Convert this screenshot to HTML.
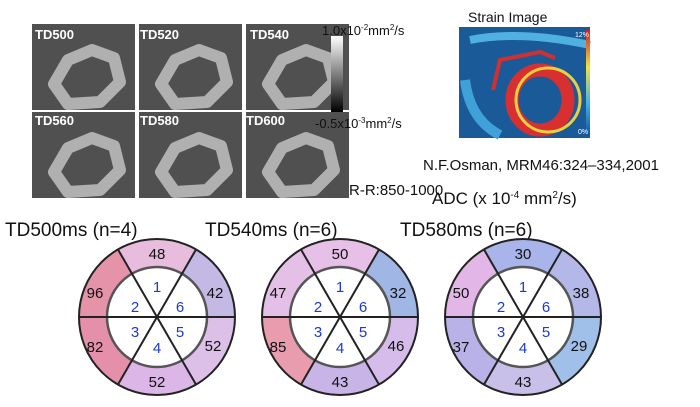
<!DOCTYPE html>
<html><head><meta charset="utf-8"><style>
body{margin:0;background:#fff;width:700px;height:402px;overflow:hidden}
svg text{font-family:"Liberation Sans",sans-serif}
</style></head><body>
<svg width="700" height="402" viewBox="0 0 700 402" xmlns="http://www.w3.org/2000/svg">
<defs>
<linearGradient id="gb" x1="0" y1="0" x2="0" y2="1"><stop offset="0" stop-color="#fff"/><stop offset="1" stop-color="#000"/></linearGradient>
<linearGradient id="sc" x1="0" y1="0" x2="0" y2="1"><stop offset="0" stop-color="#d02020"/><stop offset=".35" stop-color="#f0e040"/><stop offset=".7" stop-color="#40b0e0"/><stop offset="1" stop-color="#1050a0"/></linearGradient>
<g id="heart">
<rect width="103" height="86" fill="#505050"/>
<path d="M22 60 L36 36 L60 26 L82 34 L88 58 L68 78 L36 80 Z" fill="none" stroke="#b0b0b0" stroke-width="12" stroke-linejoin="round"/>
</g>
</defs>
<use href="#heart" x="32" y="24"/><use href="#heart" x="139" y="24"/><use href="#heart" x="246" y="24"/>
<use href="#heart" x="32" y="112"/><use href="#heart" x="139" y="112"/><use href="#heart" x="246" y="112"/>
<g fill="#fff" font-size="13" font-weight="bold">
<text x="35" y="39">TD500</text><text x="140" y="39">TD520</text><text x="250" y="39">TD540</text>
<text x="35" y="125">TD560</text><text x="140" y="125">TD580</text><text x="246" y="125">TD600</text>
</g>
<rect x="331" y="36" width="12" height="76" fill="url(#gb)"/>
<text x="322" y="35" font-size="13" fill="#111">1.0x10<tspan font-size="8" dy="-5">-2</tspan><tspan dy="5">mm</tspan><tspan font-size="8" dy="-5">2</tspan><tspan dy="5">/s</tspan></text>
<text x="315" y="128" font-size="13" fill="#111">-0.5x10<tspan font-size="8" dy="-5">-3</tspan><tspan dy="5">mm</tspan><tspan font-size="8" dy="-5">2</tspan><tspan dy="5">/s</tspan></text>
<text x="349" y="195" font-size="15" fill="#111">R-R:850-1000</text>
<text x="468" y="22" font-size="14" fill="#111">Strain Image</text>
<rect x="459" y="27" width="131" height="111" fill="#1a5a98"/>
<path d="M470 40 Q520 30 590 45" stroke="#50b0e0" stroke-width="8" fill="none"/>
<path d="M465 80 Q470 120 500 135" stroke="#40a0d8" stroke-width="10" fill="none"/>
<ellipse cx="540" cy="100" rx="28" ry="30" fill="none" stroke="#d83030" stroke-width="13"/>
<ellipse cx="548" cy="100" rx="32" ry="32" fill="none" stroke="#e8d040" stroke-width="3"/>
<path d="M493 90 L500 60 L540 52 L555 58" stroke="#d03030" stroke-width="4" fill="none"/>
<rect x="586" y="30" width="4" height="106" fill="url(#sc)"/>
<text x="575" y="37" font-size="7" fill="#fff">12%</text>
<text x="578" y="134" font-size="7" fill="#fff">0%</text>
<text x="423" y="170" font-size="15" fill="#111">N.F.Osman, MRM46:324–334,2001</text>
<text x="432" y="204" font-size="17" fill="#111">ADC (x 10<tspan font-size="10" dy="-6">-4</tspan><tspan dy="6"> mm</tspan><tspan font-size="10" dy="-6">2</tspan><tspan dy="6">/s)</tspan></text>
<g font-size="19" fill="#111">
<text x="5" y="236">TD500ms (n=4)</text><text x="205" y="236">TD540ms (n=6)</text><text x="400" y="236">TD580ms (n=6)</text>
</g>
<g transform="translate(157,317)">
<path d="M-39 -67.5 A78 78 0 0 1 39 -67.5 L25 -43.3 A50 50 0 0 0 -25 -43.3Z" fill="#e8bcdc"/>
<path d="M-78 0 A78 78 0 0 1 -39 -67.5 L-25 -43.3 A50 50 0 0 0 -50 0Z" fill="#e593a8"/>
<path d="M-39 67.5 A78 78 0 0 1 -78 0 L-50 0 A50 50 0 0 0 -25 43.3Z" fill="#e490ab"/>
<path d="M39 67.5 A78 78 0 0 1 -39 67.5 L-25 43.3 A50 50 0 0 0 25 43.3Z" fill="#dcb6e6"/>
<path d="M78 0 A78 78 0 0 1 39 67.5 L25 43.3 A50 50 0 0 0 50 0Z" fill="#dcc0e8"/>
<path d="M39 -67.5 A78 78 0 0 1 78 0 L50 0 A50 50 0 0 0 25 -43.3Z" fill="#c4b8e4"/>
</g>
<g transform="translate(340,317)">
<path d="M-39 -67.5 A78 78 0 0 1 39 -67.5 L25 -43.3 A50 50 0 0 0 -25 -43.3Z" fill="#e6c0e6"/>
<path d="M-78 0 A78 78 0 0 1 -39 -67.5 L-25 -43.3 A50 50 0 0 0 -50 0Z" fill="#e4c0e6"/>
<path d="M-39 67.5 A78 78 0 0 1 -78 0 L-50 0 A50 50 0 0 0 -25 43.3Z" fill="#e89cae"/>
<path d="M39 67.5 A78 78 0 0 1 -39 67.5 L-25 43.3 A50 50 0 0 0 25 43.3Z" fill="#c8b4e6"/>
<path d="M78 0 A78 78 0 0 1 39 67.5 L25 43.3 A50 50 0 0 0 50 0Z" fill="#d6bcea"/>
<path d="M39 -67.5 A78 78 0 0 1 78 0 L50 0 A50 50 0 0 0 25 -43.3Z" fill="#a0b6e4"/>
</g>
<g transform="translate(523,317)">
<path d="M-39 -67.5 A78 78 0 0 1 39 -67.5 L25 -43.3 A50 50 0 0 0 -25 -43.3Z" fill="#a8b4ea"/>
<path d="M-78 0 A78 78 0 0 1 -39 -67.5 L-25 -43.3 A50 50 0 0 0 -50 0Z" fill="#e2b6e6"/>
<path d="M-39 67.5 A78 78 0 0 1 -78 0 L-50 0 A50 50 0 0 0 -25 43.3Z" fill="#b8b2e8"/>
<path d="M39 67.5 A78 78 0 0 1 -39 67.5 L-25 43.3 A50 50 0 0 0 25 43.3Z" fill="#c8c0e8"/>
<path d="M78 0 A78 78 0 0 1 39 67.5 L25 43.3 A50 50 0 0 0 50 0Z" fill="#a0c0ea"/>
<path d="M39 -67.5 A78 78 0 0 1 78 0 L50 0 A50 50 0 0 0 25 -43.3Z" fill="#b4b8e8"/>
</g>
<g stroke="#222" stroke-width="2" fill="none">
<g transform="translate(157,317)"><circle r="78"/><circle r="50" stroke-width="2.5" stroke="#555"/><line x1="-78" x2="78"/><line x1="-39" y1="-67.5" x2="39" y2="67.5"/><line x1="39" y1="-67.5" x2="-39" y2="67.5"/></g>
<g transform="translate(340,317)"><circle r="78"/><circle r="50" stroke-width="2.5" stroke="#555"/><line x1="-78" x2="78"/><line x1="-39" y1="-67.5" x2="39" y2="67.5"/><line x1="39" y1="-67.5" x2="-39" y2="67.5"/></g>
<g transform="translate(523,317)"><circle r="78"/><circle r="50" stroke-width="2.5" stroke="#555"/><line x1="-78" x2="78"/><line x1="-39" y1="-67.5" x2="39" y2="67.5"/><line x1="39" y1="-67.5" x2="-39" y2="67.5"/></g>
</g>
<g font-size="15" fill="#111" text-anchor="middle">
<g transform="translate(157,317)"><text y="-58">48</text><text x="-62" y="-19">96</text><text x="-62" y="35">82</text><text y="70">52</text><text x="56" y="34">52</text><text x="58" y="-19">42</text></g>
<g transform="translate(340,317)"><text y="-58">50</text><text x="-62" y="-19">47</text><text x="-62" y="35">85</text><text y="70">43</text><text x="56" y="34">46</text><text x="58" y="-19">32</text></g>
<g transform="translate(523,317)"><text y="-58">30</text><text x="-62" y="-19">50</text><text x="-62" y="35">37</text><text y="70">43</text><text x="56" y="34">29</text><text x="58" y="-19">38</text></g>
</g>
<g font-size="15" fill="#1a3ad0" text-anchor="middle">
<g transform="translate(157,317)"><text y="-25">1</text><text x="-22" y="-5">2</text><text x="-22" y="20">3</text><text y="36">4</text><text x="23" y="20">5</text><text x="23" y="-5">6</text></g>
<g transform="translate(340,317)"><text y="-25">1</text><text x="-22" y="-5">2</text><text x="-22" y="20">3</text><text y="36">4</text><text x="23" y="20">5</text><text x="23" y="-5">6</text></g>
<g transform="translate(523,317)"><text y="-25">1</text><text x="-22" y="-5">2</text><text x="-22" y="20">3</text><text y="36">4</text><text x="23" y="20">5</text><text x="23" y="-5">6</text></g>
</g>
</svg>
</body></html>
